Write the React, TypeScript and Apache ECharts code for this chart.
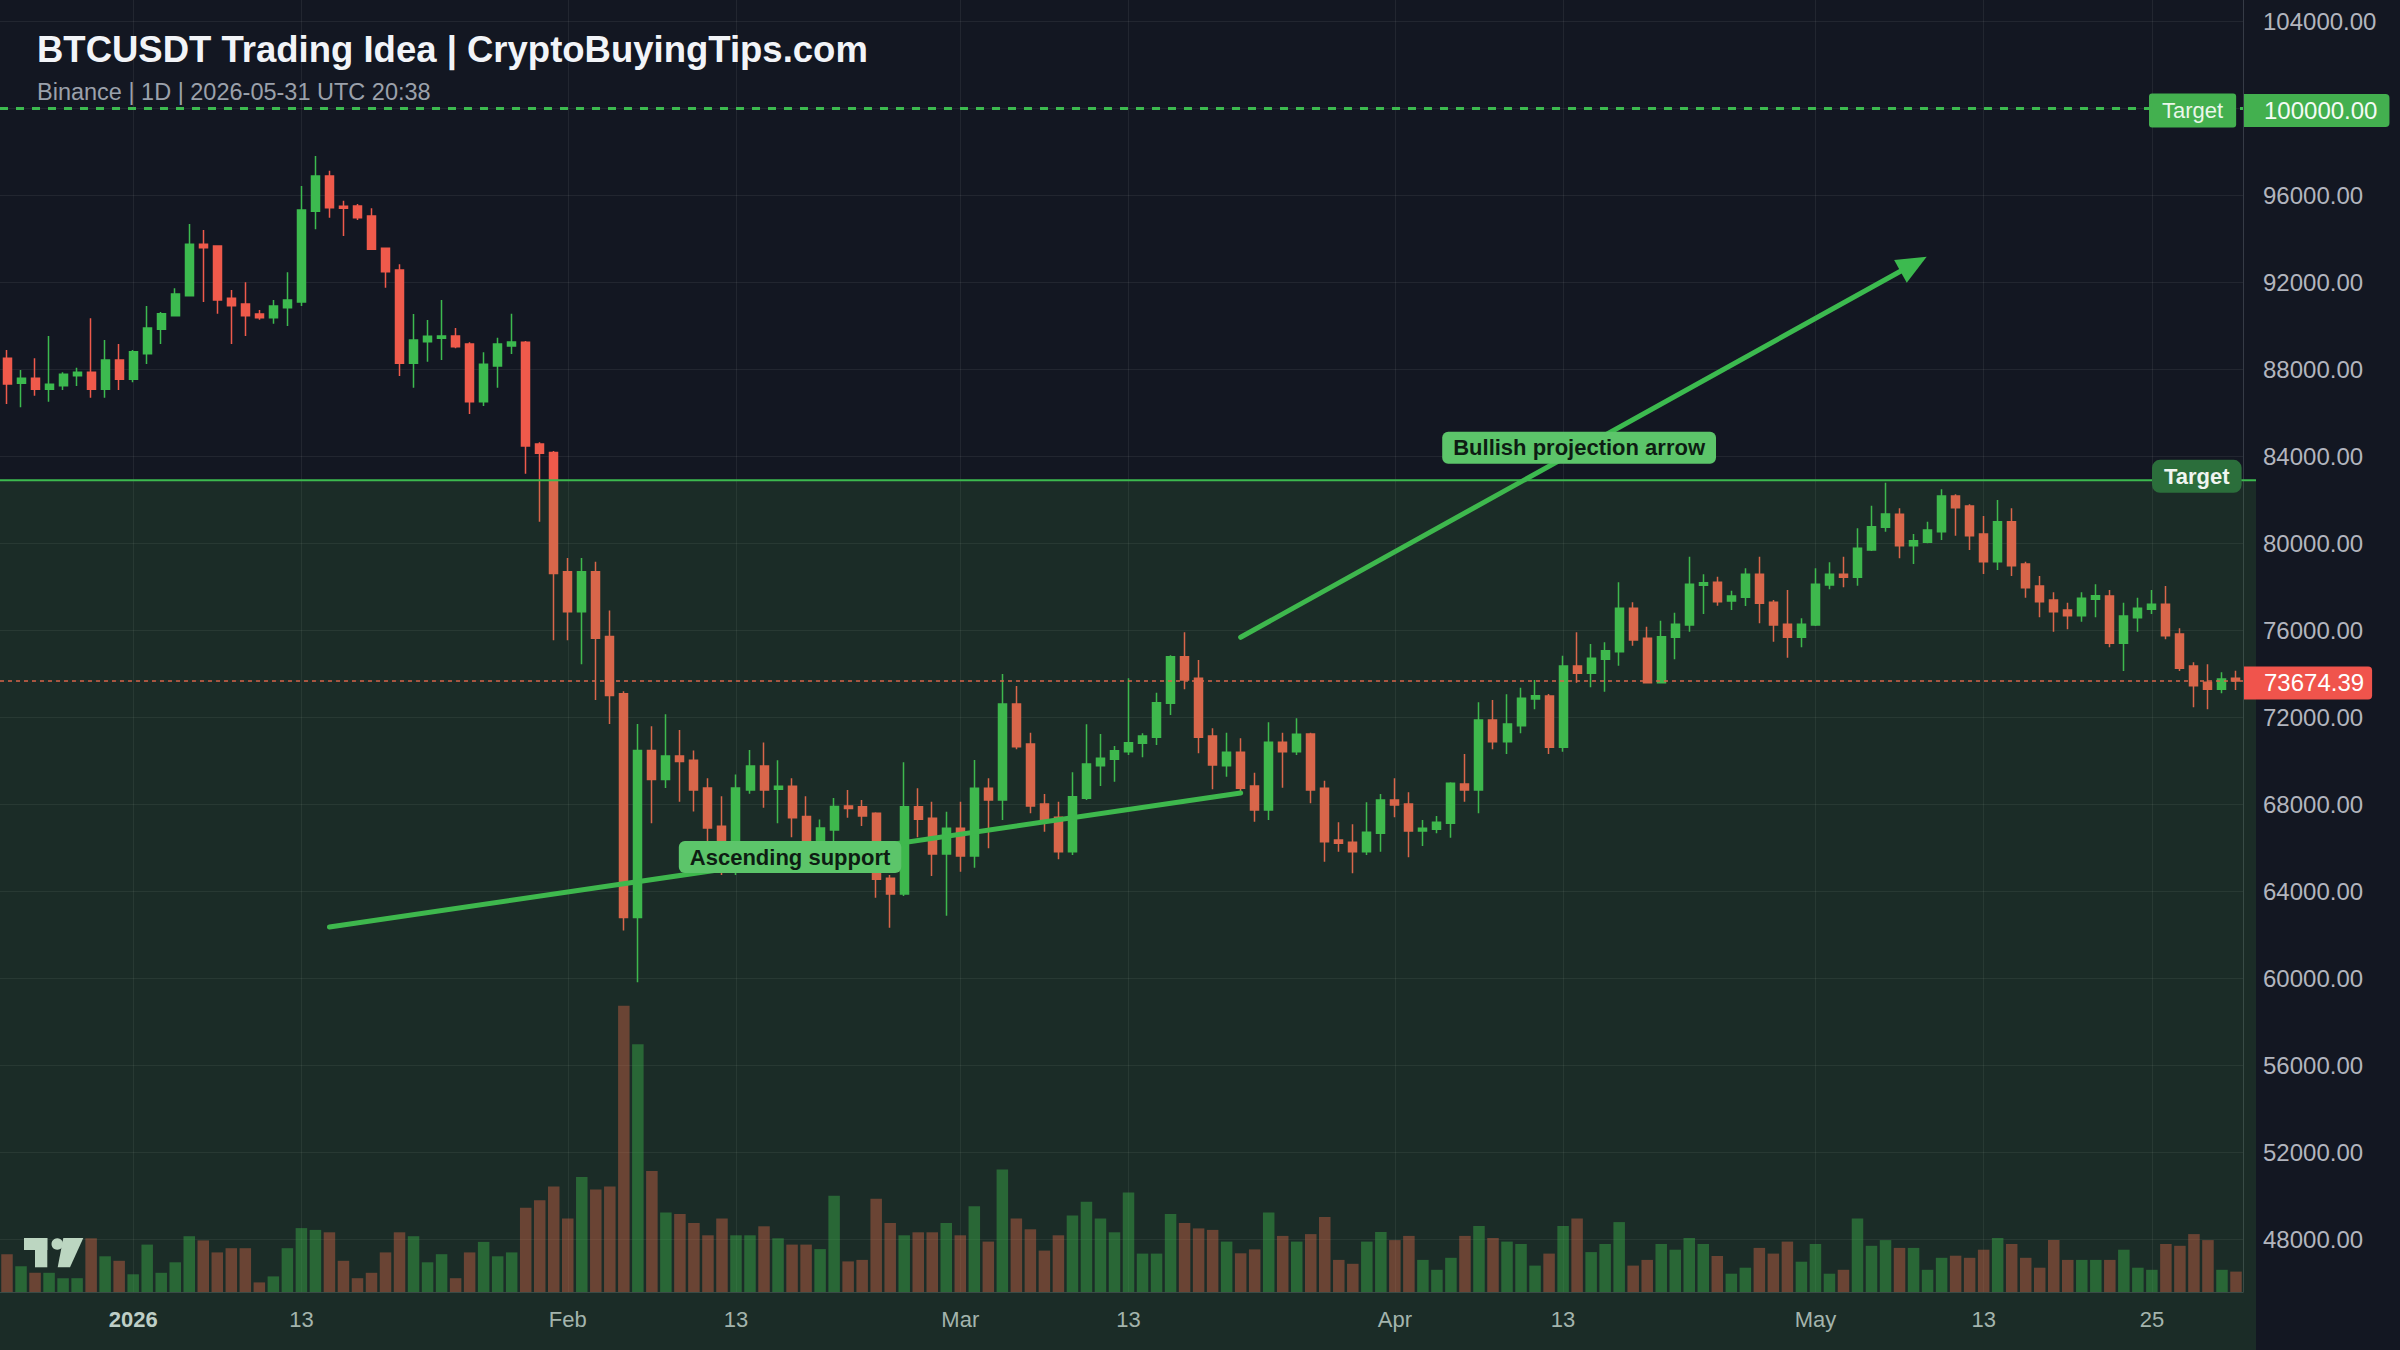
import React, { useEffect, useRef } from 'react';
import * as echarts from 'echarts';

const W = 2400;
const H = 1350;
const PLOT_W = 2243;
const FONT = '"Liberation Sans", Arial, Helvetica, sans-serif';

const BG = '#131722';
const GRID_COLOR = 'rgba(255,255,255,0.065)';
const BORDER_COLOR = '#363b46';
const AXIS_TEXT = '#b2b5be';
const GREEN = '#3cba4f';
const RED = '#ef5a4b';
const LABEL_GREEN = '#5cc56a';
const ZONE_FILL = 'rgba(79,176,74,0.14)';

// ---- data ----
const FIRST_DAY_UTC = Date.UTC(2025, 11, 23);
const DAY_COUNT = 160;

// [open, close, low, high]
const OHLC_DEC = [
  [88508, 87328, 86408, 88891], [87358, 87588, 86255, 87972], [87588, 87083, 86791, 88508],
  [87083, 87312, 86515, 89535], [87251, 87772, 87052, 87864], [87711, 87864, 87236, 88079],
  [87864, 87083, 86700, 90347], [87083, 88432, 86700, 89351], [88432, 87542, 87052, 89167],
];
const OHLC_JAN = [
  [87542, 88815, 87405, 88891], [88723, 89903, 88247, 90914], [89841, 90562, 89167, 90638],
  [90470, 91466, 90470, 91727], [91389, 93750, 91389, 94685], [93750, 93597, 91098, 94409],
  [93673, 91190, 90562, 93673], [91267, 90930, 89167, 91650], [91006, 90470, 89535, 92002],
  [90546, 90378, 90286, 90730], [90378, 90914, 90102, 91190], [90838, 91190, 89995, 92462],
  [91098, 95329, 90914, 96432], [95267, 96892, 94439, 97812], [96892, 95436, 94976, 97137],
  [95497, 95405, 94133, 95758], [95512, 94976, 94869, 95604], [95053, 93520, 93520, 95405],
  [93566, 92493, 91757, 93566], [92570, 88278, 87696, 92830], [88278, 89351, 87159, 90546],
  [89275, 89520, 88355, 90270], [89428, 89535, 88431, 91190], [89535, 89044, 88968, 89903],
  [89167, 86515, 85948, 89244], [86515, 88232, 86316, 88784], [88155, 89167, 87159, 89458],
  [89075, 89259, 88707, 90562], [89244, 84481, 83205, 89300], [84566, 84141, 80994, 84651],
  [84175, 78612, 75550, 84250],
];
const OHLC_FEB = [
  [78697, 76860, 75550, 79327], [76860, 78697, 74445, 79327], [78697, 75635, 72795, 79157],
  [75720, 73000, 71689, 76911], [73084, 62792, 62197, 73203], [62792, 70481, 59815, 71689],
  [70481, 69137, 67130, 71587], [69137, 70226, 68746, 72148], [70226, 69971, 68117, 71417],
  [70022, 68661, 67674, 70481], [68746, 66909, 66279, 69205], [66994, 65260, 64750, 68372],
  [65260, 68746, 64750, 69375], [68661, 69767, 68491, 70498], [69767, 68661, 67844, 70838],
  [68695, 68831, 67130, 70022], [68831, 67385, 66483, 69205], [67436, 66100, 65600, 68372],
  [65939, 66909, 65684, 67300], [66824, 67895, 66279, 68287], [67929, 67810, 67385, 68661],
  [67893, 67464, 66999, 68200], [67587, 64552, 63709, 67633], [64598, 63878, 62330, 64751],
  [63878, 67893, 63786, 69932], [67893, 67311, 66483, 68736], [67357, 65717, 64705, 68123],
  [65717, 66897, 62881, 67663],
];
const OHLC_MAR = [
  [66897, 65625, 64904, 68123], [65625, 68736, 65088, 70039], [68736, 68200, 65978, 69196],
  [68200, 72614, 67280, 73994], [72614, 70652, 70529, 73442], [70775, 67924, 67587, 71296],
  [68016, 67311, 66744, 68476], [67403, 65824, 65472, 68123], [65824, 68353, 65671, 69472],
  [68277, 69855, 68200, 71679], [69779, 70116, 68843, 71234], [70070, 70468, 69043, 70683],
  [70422, 70836, 70269, 73794], [70805, 71142, 70162, 71265], [71081, 72675, 70729, 73135],
  [72645, 74790, 72108, 74850], [74790, 73717, 73288, 75909], [73794, 71081, 70346, 74637],
  [71142, 69809, 68690, 71495], [69779, 70392, 69273, 71296], [70392, 68736, 68537, 71035],
  [68844, 67740, 67204, 69457], [67740, 70852, 67280, 71771], [70852, 70422, 68767, 71296],
  [70422, 71219, 70269, 71955], [71234, 68660, 68047, 71296], [68736, 66284, 65364, 69089],
  [66361, 66207, 65824, 67173], [66253, 65824, 64828, 67081], [65824, 66713, 65671, 68093],
  [66667, 68200, 65824, 68476],
];
const OHLC_APR = [
  [68200, 67970, 67403, 69196], [68016, 66774, 65564, 68553], [66774, 66897, 66085, 67280],
  [66851, 67173, 66667, 67464], [67127, 68966, 66468, 69012], [68936, 68660, 68123, 70315],
  [68660, 71878, 67587, 72691], [71878, 70882, 70530, 72798], [70882, 71694, 70315, 73058],
  [71618, 72875, 71265, 73365], [72844, 72997, 72369, 73718], [72981, 70621, 70314, 73073],
  [70621, 74361, 70422, 74836], [74361, 74024, 73594, 75909], [74024, 74713, 73380, 75372],
  [74667, 75066, 73181, 75449], [75020, 77012, 74376, 78208], [77012, 75556, 75296, 77288],
  [75633, 73594, 73564, 76169], [73594, 75709, 73564, 76445], [75679, 76276, 74667, 76813],
  [76246, 78116, 75939, 79388], [78070, 78193, 76752, 78576], [78208, 77319, 77135, 78469],
  [77349, 77579, 76936, 77825], [77518, 78576, 77119, 78852], [78576, 77242, 76323, 79388],
  [77288, 76246, 75480, 77395], [76276, 75679, 74744, 77855], [75679, 76276, 75219, 76552],
];
const OHLC_MAY = [
  [76246, 78116, 76200, 78852], [78085, 78576, 77886, 79127], [78576, 78438, 77978, 79388],
  [78438, 79771, 78055, 80691], [79695, 80767, 79649, 81733], [80737, 81350, 80537, 82791],
  [81335, 79894, 79312, 81611], [79894, 80124, 79051, 80431], [80047, 80614, 80001, 80998],
  [80538, 82178, 80155, 82484], [82178, 81641, 80354, 82254], [81718, 80354, 79695, 81800],
  [80431, 79158, 78591, 81258], [79158, 80998, 78774, 81994], [80998, 78974, 78499, 81611],
  [79051, 77963, 77503, 79158], [78039, 77319, 76599, 78499], [77396, 76859, 75940, 77748],
  [76936, 76675, 76047, 77273], [76675, 77475, 76400, 77748], [77426, 77595, 76599, 78116],
  [77580, 75403, 75219, 77855], [75403, 76660, 74131, 77273], [76583, 77012, 75940, 77503],
  [76966, 77196, 76752, 77855], [77196, 75756, 75587, 78039], [75832, 74254, 74131, 76093],
  [74361, 73457, 72460, 74530], [73610, 73288, 72368, 74438], [73288, 73763, 73104, 74070],
  [73794, 73674.39, 73258, 74147],
];

// volume (thousand BTC)
const VOL_DEC = [12.6, 8.6, 6.4, 6.4, 4.6, 4.6, 17.9, 11.9, 10.4];
const VOL_JAN = [5.9, 15.8, 6.4, 9.9, 18.6, 17.2, 13.2, 14.6, 14.6, 3.2, 5.2, 14.6, 21.3, 20.7, 19.9, 10.4,
  4.6, 6.4, 13.2, 19.9, 18.6, 9.9, 12.6, 4.6, 13.2, 16.7, 11.9, 13.2, 28.1, 30.6, 35.2];
const VOL_FEB = [24.5, 38.3, 34.2, 35.2, 95.4, 82.6, 40.3, 26.5, 26, 23, 18.9, 24.5, 18.9, 18.9, 21.9, 17.9,
  15.8, 15.8, 14.3, 32.1, 10.2, 10.7, 31.1, 23, 18.9, 19.9, 19.9, 23];
const VOL_MAR = [18.9, 28.6, 16.8, 40.8, 24.5, 20.9, 13.8, 18.9, 25.5, 30.1, 24.5, 19.9, 33.2, 12.8, 12.8, 26,
  23, 21.2, 20.7, 16.8, 12.9, 14.2, 26.5, 18.7, 16.8, 19.3, 25, 10.7, 9.4, 16.8, 20];
const VOL_APR = [17.3, 18.7, 10.7, 7.4, 11.4, 18.7, 22, 18, 16.8, 16, 8.8, 12.8, 22, 24.5, 13.3, 16, 23.3, 8.8,
  10.7, 16, 14.1, 18, 16, 12, 6.1, 8.1, 14.7, 12.8, 16.8, 10.1];
const VOL_MAY = [16, 6.1, 7.4, 24.5, 15.4, 17.3, 14.7, 14.7, 7.4, 11.4, 12.1, 11.4, 14.1, 18, 16, 11.4, 8.1,
  17.3, 10.7, 10.7, 10.7, 10.7, 14.1, 8.1, 7.4, 16, 15.4, 19.3, 17.3, 7.4, 6.8];
const VOL_AXIS_MAX = 430.7;

const PRICE_MIN = 44000;
const PRICE_MAX = 108000;
const PRICE_STEP = 4000;
const PRICE_LABEL_MIN = 48000;
const PRICE_LABEL_MAX = 104000;

const TARGET_PRICE = 100000;
const TARGET_ZONE_TOP = 82900;
const LAST_PRICE = 73674.39;

const SUPPORT_LINE = [['2026-01-15', 62356], ['2026-03-21', 68522]];
const PROJECTION_ARROW = [['2026-03-21', 75681], ['2026-05-08', 92845]];

const DATE_TICKS: Record<string, string> = {
  '2026-01-01': '2026', '2026-01-13': '13', '2026-02-01': 'Feb', '2026-02-13': '13',
  '2026-03-01': 'Mar', '2026-03-13': '13', '2026-04-01': 'Apr', '2026-04-13': '13',
  '2026-05-01': 'May', '2026-05-13': '13', '2026-05-25': '25',
};

const TITLE = 'BTCUSDT Trading Idea | CryptoBuyingTips.com';
const SUBTITLE = 'Binance | 1D | 2026-05-31 UTC 20:38';

function buildDates(): string[] {
  const out: string[] = [];
  for (let i = 0; i < DAY_COUNT; i++) {
    out.push(new Date(FIRST_DAY_UTC + i * 86400000).toISOString().slice(0, 10));
  }
  return out;
}

function buildOption(dates: string[]) {
  const ohlc = [...OHLC_DEC, ...OHLC_JAN, ...OHLC_FEB, ...OHLC_MAR, ...OHLC_APR, ...OHLC_MAY];
  const vol = [...VOL_DEC, ...VOL_JAN, ...VOL_FEB, ...VOL_MAR, ...VOL_APR, ...VOL_MAY];
  const tickFn = (_i: number, v: string) => DATE_TICKS[v] !== undefined;

  return {
    animation: false,
    backgroundColor: BG,
    grid: [
      { left: 0, width: PLOT_W, top: -65.6, height: 1391.9, containLabel: false, outerBoundsMode: 'none' },
      { left: 0, width: PLOT_W, top: 0, height: 1292, containLabel: false, outerBoundsMode: 'none' },
    ],
    xAxis: [
      { type: 'category', gridIndex: 0, data: dates, boundaryGap: true, show: false },
      {
        type: 'category', gridIndex: 1, data: dates, boundaryGap: true,
        axisLine: { show: true, lineStyle: { color: BORDER_COLOR, width: 1 } },
        axisTick: { show: false },
        axisLabel: {
          interval: tickFn,
          margin: 16,
          color: AXIS_TEXT,
          fontSize: 22,
          fontFamily: FONT,
          formatter: (v: string) => (DATE_TICKS[v] === '2026' ? '{y|2026}' : DATE_TICKS[v] || ''),
          rich: { y: { fontSize: 22, fontWeight: 'bold', color: '#d1d4dc', fontFamily: FONT } },
        },
        splitLine: { show: true, interval: tickFn, alignWithLabel: true, lineStyle: { color: GRID_COLOR, width: 1 } },
      },
    ],
    yAxis: [
      {
        type: 'value', gridIndex: 0, position: 'right',
        min: PRICE_MIN, max: PRICE_MAX, interval: PRICE_STEP,
        axisLine: { show: false }, axisTick: { show: false },
        axisLabel: {
          margin: 20, color: AXIS_TEXT, fontSize: 24, fontFamily: FONT,
          formatter: (v: number) => (v < PRICE_LABEL_MIN || v > PRICE_LABEL_MAX ? '' : v.toFixed(2)),
        },
        splitLine: { show: true, showMinLine: false, showMaxLine: false, lineStyle: { color: GRID_COLOR, width: 1 } },
      },
      {
        type: 'value', gridIndex: 1, position: 'right', min: 0, max: VOL_AXIS_MAX,
        axisLine: { show: true, lineStyle: { color: BORDER_COLOR, width: 1 } },
        axisTick: { show: false }, axisLabel: { show: false }, splitLine: { show: false },
      },
    ],
    series: [
      {
        type: 'bar', name: 'Volume', xAxisIndex: 1, yAxisIndex: 1, barWidth: 11.5, z: 1,
        data: vol.map((v, i) => ({
          value: v,
          itemStyle: { color: ohlc[i][1] >= ohlc[i][0] ? GREEN : RED, opacity: 0.42 },
        })),
      },
      {
        type: 'candlestick', name: 'BTCUSDT', xAxisIndex: 0, yAxisIndex: 0, barWidth: 8.5, z: 3,
        itemStyle: { color: GREEN, color0: RED, borderColor: GREEN, borderColor0: RED, borderWidth: 1.5 },
        data: ohlc,
        markLine: {
          silent: true, symbol: ['none', 'none'], label: { show: false }, animation: false,
          data: [
            [
              { coord: SUPPORT_LINE[0], lineStyle: { color: GREEN, width: 5, type: 'solid', cap: 'round' } },
              { coord: SUPPORT_LINE[1] },
            ],
            [
              { coord: PROJECTION_ARROW[0], lineStyle: { color: GREEN, width: 5, type: 'solid', cap: 'round' } },
              { coord: PROJECTION_ARROW[1], symbol: 'triangle', symbolSize: [26, 30] },
            ],
            { yAxis: TARGET_PRICE, lineStyle: { color: GREEN, width: 3, type: [8, 8] } },
            { yAxis: LAST_PRICE, lineStyle: { color: RED, width: 1.6, type: [4, 4] } },
          ],
        },
      },
    ],
  };
}

function textStyle(o: any) {
  return {
    ...o,
    fontFamily: FONT,
    align: o.align,
    textAlign: o.align,
    verticalAlign: o.verticalAlign,
    textVerticalAlign: o.verticalAlign,
  };
}

function buildGraphic(chart: any) {
  const yPx = (v: number) => chart.convertToPixel({ yAxisIndex: 0 }, v) as number;
  const pt = (p: any) => chart.convertToPixel({ xAxisIndex: 0, yAxisIndex: 0 }, p) as number[];
  const zoneY = yPx(TARGET_ZONE_TOP);
  const targetY = yPx(TARGET_PRICE);
  const lastY = yPx(LAST_PRICE);
  const s0 = pt(SUPPORT_LINE[0]);
  const s1 = pt(SUPPORT_LINE[1]);
  const a0 = pt(PROJECTION_ARROW[0]);
  const a1 = pt(PROJECTION_ARROW[1]);
  const zoneRight = PLOT_W + 13;
  const logo = '#cfdcd6';

  return [
    {
      type: 'text', x: 37, y: 49, z: 30, silent: true,
      style: textStyle({ text: TITLE, fontSize: 36.5, fontWeight: 'bold', fill: '#f2f4f8', align: 'left', verticalAlign: 'middle' }),
    },
    {
      type: 'text', x: 37, y: 92, z: 30, silent: true,
      style: textStyle({ text: SUBTITLE, fontSize: 23.5, fill: '#9ba1ab', align: 'left', verticalAlign: 'middle' }),
    },
    {
      type: 'rect', z: 10, silent: true,
      shape: { x: 0, y: zoneY, width: zoneRight, height: H - zoneY },
      style: { fill: ZONE_FILL },
    },
    {
      type: 'line', z: 11, silent: true,
      shape: { x1: 0, y1: zoneY, x2: zoneRight, y2: zoneY },
      style: { stroke: GREEN, lineWidth: 2 },
    },
    {
      type: 'text', x: PLOT_W - 91, y: zoneY - 4, z: 30, silent: true,
      style: textStyle({
        text: 'Target', fontSize: 22, fontWeight: 'bold', fill: '#f0f5f0', align: 'left', verticalAlign: 'middle',
        backgroundColor: '#2b6e3b', padding: [6, 12, 5, 12], borderRadius: 8,
      }),
    },
    {
      type: 'text', x: PLOT_W - 94, y: targetY + 2, z: 30, silent: true,
      style: textStyle({
        text: 'Target', fontSize: 22, fill: '#eaf6ea', align: 'left', verticalAlign: 'middle',
        backgroundColor: '#43b04f', padding: [6, 13, 6, 13], borderRadius: 3,
      }),
    },
    {
      type: 'text', x: PLOT_W + 1, y: targetY + 2, z: 30, silent: true,
      style: textStyle({
        text: TARGET_PRICE.toFixed(2), fontSize: 24, fill: '#f4fbf4', align: 'left', verticalAlign: 'middle',
        backgroundColor: '#43b04f', padding: [5, 12, 4, 20], borderRadius: [0, 4, 4, 0],
      }),
    },
    {
      type: 'text', x: PLOT_W + 1, y: lastY + 2, z: 30, silent: true,
      style: textStyle({
        text: LAST_PRICE.toFixed(2), fontSize: 24, fill: '#ffffff', align: 'left', verticalAlign: 'middle',
        backgroundColor: '#f0544c', padding: [5, 8, 4, 20], borderRadius: [0, 4, 4, 0],
      }),
    },
    {
      type: 'text', x: (s0[0] + s1[0]) / 2 + 5, y: (s0[1] + s1[1]) / 2 - 3, z: 30, silent: true,
      style: textStyle({
        text: 'Ascending support', fontSize: 22, fontWeight: 'bold', fill: '#0e1d13', align: 'center', verticalAlign: 'middle',
        backgroundColor: LABEL_GREEN, padding: [5, 11, 5, 11], borderRadius: 6,
      }),
    },
    {
      type: 'text', x: (a0[0] + a1[0]) / 2 + 2, y: (a0[1] + a1[1]) / 2 - 3, z: 30, silent: true,
      style: textStyle({
        text: 'Bullish projection arrow', fontSize: 22, fontWeight: 'bold', fill: '#0e1d13', align: 'center', verticalAlign: 'middle',
        backgroundColor: LABEL_GREEN, padding: [5, 11, 5, 11], borderRadius: 6,
      }),
    },
    {
      type: 'group', x: 24, y: 1238, z: 30, silent: true,
      children: [
        { type: 'rect', shape: { x: 0, y: 0, width: 23.3, height: 12 }, style: { fill: logo } },
        { type: 'rect', shape: { x: 11, y: 0, width: 12.3, height: 29.3 }, style: { fill: logo } },
        { type: 'circle', shape: { cx: 33.3, cy: 6, r: 5.8 }, style: { fill: logo } },
        { type: 'polygon', shape: { points: [[39.3, 0], [59.3, 0], [46, 29.3], [33.7, 29.3]] }, style: { fill: logo } },
      ],
    },
  ];
}

export default function App() {
  const ref = useRef<HTMLDivElement>(null);
  useEffect(() => {
    document.body.style.margin = '0';
    const el = ref.current!;
    const chart = echarts.init(el, null, { renderer: 'svg', width: W, height: H });
    const dates = buildDates();
    chart.setOption(buildOption(dates) as any);
    chart.setOption({ graphic: buildGraphic(chart) } as any);
    return () => chart.dispose();
  }, []);
  return <div ref={ref} style={{ position: 'fixed', left: 0, top: 0, width: W, height: H, background: BG }} />;
}
